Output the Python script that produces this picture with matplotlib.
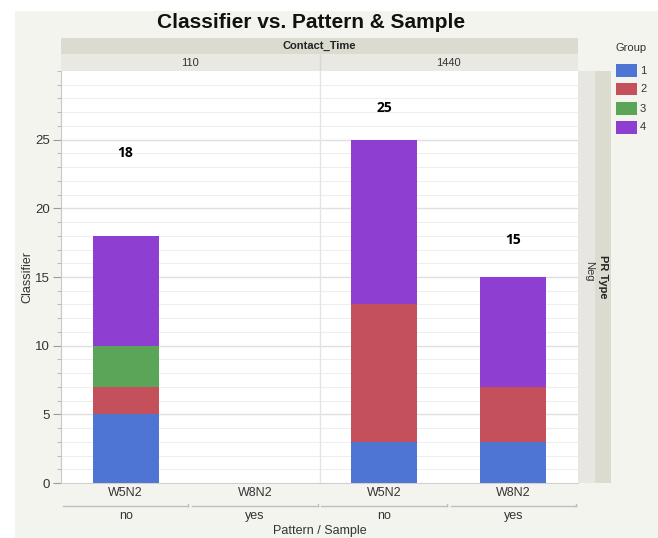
import matplotlib
matplotlib.use("Agg")
import matplotlib.pyplot as plt
from matplotlib.patches import Rectangle
from matplotlib.transforms import blended_transform_factory
import numpy as np

# ---- data -------------------------------------------------------------
contact_times = ["110", "1440"]
patterns = ["W5N2", "W8N2", "W5N2", "W8N2"]
samples = ["no", "yes", "no", "yes"]
group_names = ["1", "2", "3", "4"]
group1 = [5, 0, 3, 3]
group2 = [2, 0, 10, 4]
group3 = [3, 0, 0, 0]
group4 = [8, 0, 12, 8]
group_colors = ["#4e74d4", "#c4505b", "#5aa558", "#8e3fd2"]
y_ticks = [0, 5, 10, 15, 20, 25]

series = [group1, group2, group3, group4]
totals = [sum(v) for v in zip(*series)]
# vertical placement of the total labels (data units)
label_y = [24.0, None, 27.3, 17.7]

W, H = 658, 538
plt.rcParams["font.family"] = ["Liberation Sans", "DejaVu Sans"]
fig = plt.figure(figsize=(W / 100, H / 100), dpi=100, facecolor="white")


def fx(px):
    return px / W


def fy(py):
    return 1 - py / H


def frect(x0, y0, x1, y1, color, z=0):
    fig.add_artist(Rectangle((fx(x0), fy(y1)), fx(x1) - fx(x0), fy(y0) - fy(y1),
                             transform=fig.transFigure, facecolor=color,
                             edgecolor="none", zorder=z))


# light backdrop behind everything
frect(15, 11, W, H, "#f4f4ef", z=-10)

# plot frame geometry in pixels
L, R, T, B = 61, 578, 71, 483

# facet header bands
frect(L, 38, R, 54, "#dcdbd0", z=-5)
frect(L, 54, R, T, "#e9e8e2", z=-5)
fig.text(fx((L + R) / 2), fy(46), "Contact_Time", ha="center", va="center",
         fontsize=8, fontweight="bold", color="#222222")
mid = (L + R) / 2
fig.text(fx((L + mid) / 2), fy(62.5), contact_times[0], ha="center", va="center",
         fontsize=8, color="#333333")
fig.text(fx((mid + R) / 2), fy(62.5), contact_times[1], ha="center", va="center",
         fontsize=8, color="#333333")
fig.add_artist(plt.Line2D([fx(mid), fx(mid)], [fy(54), fy(T)], transform=fig.transFigure,
                          color="#d8d8d2", lw=1.0, zorder=-4))

# right-hand facet strip
frect(R, T, 595, B, "#e7e6e0", z=-5)
frect(595, T, 611, B, "#dcdbd0", z=-5)
fig.text(fx(589), fy((T + B) / 2 - 6), "Neg", ha="center", va="center", rotation=270,
         fontsize=8, color="#333333")
fig.text(fx(603), fy((T + B) / 2), "PR Type", ha="center", va="center", rotation=270,
         fontsize=8, fontweight="bold", color="#222222")

# title
fig.text(fx(311), fy(23), "Classifier vs. Pattern & Sample", ha="center", va="center",
         fontsize=15, fontweight="bold", color="#111111")

# ---- main axes ---------------------------------------------------------
ax = fig.add_axes([fx(L), fy(B), fx(R) - fx(L), fy(T) - fy(B)])
ax.set_facecolor("white")
ax.set_xlim(-0.5, len(patterns) - 0.5)
ax.set_ylim(0, 30)

for yv in range(1, 30):
    major = yv % 5 == 0
    ax.axhline(yv, color="#e0e0e0" if major else "#eeeeee", lw=1.0 if major else 0.8, zorder=0)
ax.axvline(1.5, color="#e4e4e4", lw=1.0, zorder=0)

x = np.arange(len(patterns))
bottom = np.zeros(len(patterns))
for vals, col in zip(series, group_colors):
    vals = np.array(vals, dtype=float)
    ax.bar(x, vals, bottom=bottom, width=0.51, color=col, edgecolor="none", zorder=2)
    bottom += vals

for xi, tot, ly in zip(x, totals, label_y):
    if tot > 0 and ly is not None:
        ax.text(xi, ly, str(tot), ha="center", va="center", fontsize=10,
                fontweight="bold", color="black", family=["Open Sans", "DejaVu Sans"])

ax.set_yticks(y_ticks)
ax.set_yticks(range(0, 31), minor=True)
ax.tick_params(axis="y", which="major", length=6, color="#9a9a9a", labelsize=9.5,
               labelcolor="#333333", pad=2)
ax.tick_params(axis="y", which="minor", length=3, color="#b0b0b0")
ax.set_xticks([])
for s in ["top", "right"]:
    ax.spines[s].set_visible(False)
ax.spines["left"].set_color("#c8c8c8")
ax.spines["bottom"].set_color("#d0d0d0")
ax.set_ylabel("Classifier", fontsize=9, color="#333333", labelpad=1)

# two-level category labels beneath the axis
bt = blended_transform_factory(ax.transData, fig.transFigure)
for xi, p, s in zip(x, patterns, samples):
    ax.text(xi, fy(493), p, transform=bt, ha="center", va="center", fontsize=9,
            color="#333333", clip_on=False)
    ax.add_line(plt.Line2D([xi - 0.485, xi + 0.485], [fy(505.5), fy(505.5)], transform=bt,
                           color="#bdbdbd", lw=1.0, clip_on=False))
    ax.add_line(plt.Line2D([xi + 0.485, xi + 0.485], [fy(505.5), fy(503.5)], transform=bt,
                           color="#bdbdbd", lw=1.0, clip_on=False))
    ax.text(xi, fy(516), s, transform=bt, ha="center", va="center", fontsize=9,
            color="#333333", clip_on=False)
fig.text(fx((L + R) / 2), fy(531), "Pattern / Sample", ha="center", va="center",
         fontsize=9, color="#333333")

# legend
fig.text(fx(631), fy(48), "Group", ha="center", va="center", fontsize=8, color="#333333")
for i, (name, col) in enumerate(zip(group_names, group_colors)):
    y0 = 64 + i * 19
    frect(616, y0, 637, y0 + 12.5, col, z=1)
    fig.text(fx(640), fy(y0 + 6.5), name, ha="left", va="center", fontsize=8,
             color="#333333")

fig.savefig("out.png", dpi=100, facecolor=fig.get_facecolor())
